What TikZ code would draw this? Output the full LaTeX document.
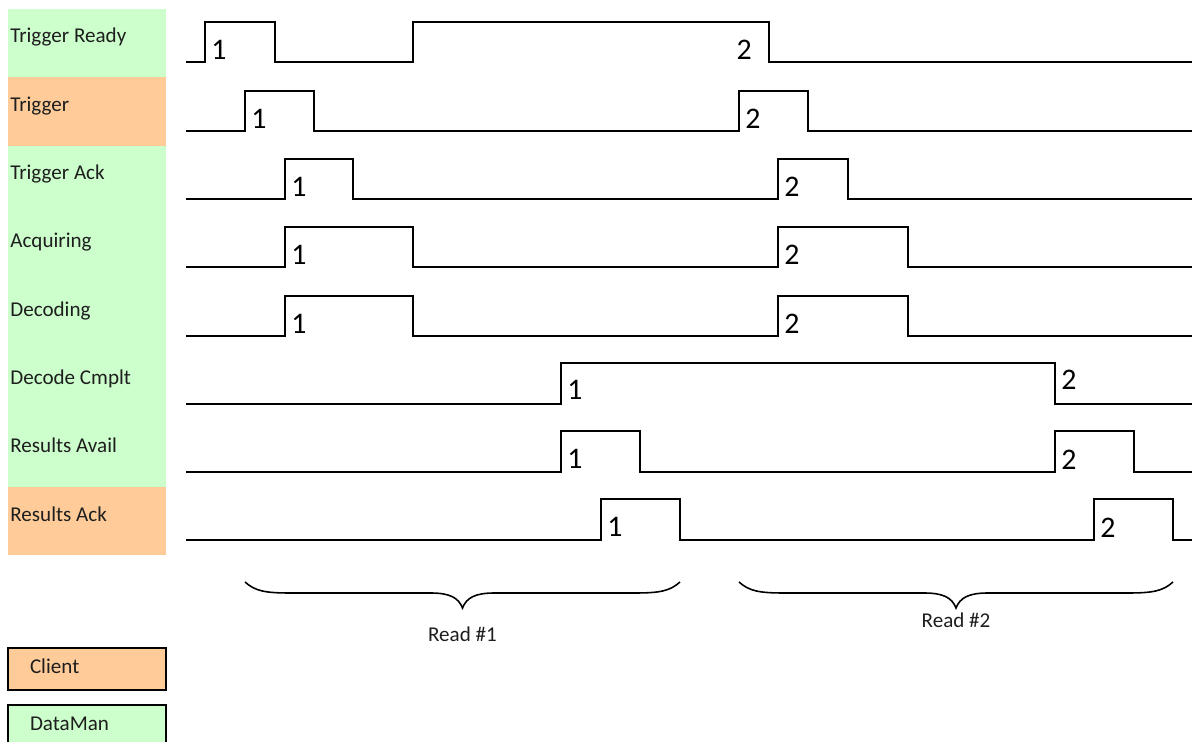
\documentclass[tikz,border=0pt]{standalone}
\usepackage{fontspec}
\setmainfont{Carlito}
\usetikzlibrary{calc}

\definecolor{dmgreen}{RGB}{204,255,204}
\definecolor{clorange}{RGB}{255,204,153}
\definecolor{txtc}{RGB}{30,30,30}

\tikzset{
  sig/.style={line width=1.2pt, line join=miter},
  lbl/.style={anchor=base west, inner sep=0pt, text=txtc, font=\fontsize{12}{14}\selectfont},
  num/.style={anchor=west, inner sep=0pt, font=\fontsize{17}{19}\selectfont},
  brc/.style={line width=0.9pt},
  legbox/.style={draw, line width=1.1pt, minimum width=3.16cm, minimum height=0.84cm,
    text width=2.28cm, align=left, text height=8pt, text depth=3pt, text=txtc,
    font=\fontsize{12}{14}\selectfont}
}

\begin{document}
\begin{tikzpicture}[x=0.02cm, y=-0.02cm]
    \useasboundingbox (0,0) rectangle (1194,742);

    % --- 1. rows: coloured band and signal name ---
    \foreach \i/\txt/\col in {0/Trigger Ready/dmgreen, 1/Trigger/clorange,
        2/Trigger Ack/dmgreen, 3/Acquiring/dmgreen, 4/Decoding/dmgreen,
        5/Decode Cmplt/dmgreen, 6/Results Avail/dmgreen, 7/Results Ack/clorange}{
        \pgfmathsetmacro\rtop{9+68.3*\i}
        \fill[\col] (8,\rtop) rectangle (166,\rtop+68.4);
        \node[lbl] (row\i) at (10,\rtop+34) {\txt};
    }

    % --- 2. waveforms (low / high levels per row) ---
    \draw[sig] (186,62) -| (205,22) -| (275,62) -| (413,22) -| (769,62) -- (1192,62);
    \draw[sig] (186,131) -| (245,91) -| (314,131) -| (739,91) -| (808,131) -- (1192,131);
    \draw[sig] (186,199) -| (285,159) -| (353,199) -| (778,159) -| (848,199) -- (1192,199);
    \draw[sig] (186,267) -| (285,227) -| (413,267) -| (778,227) -| (908,267) -- (1192,267);
    \draw[sig] (186,336) -| (285,296) -| (413,336) -| (778,296) -| (908,336) -- (1192,336);
    \draw[sig] (186,404) -| (561,363) -| (1055,404) -- (1192,404);
    \draw[sig] (186,472) -| (561,431) -| (640,472) -| (1055,431) -| (1134,472) -- (1192,472);
    \draw[sig] (186,540) -| (601,499) -| (680,540) -| (1094,499) -| (1173,540) -- (1192,540);

    % --- 3. read numbers at the edges ---
    \node[num, anchor=east] (tr2) at (752,50) {2};
    \foreach \nm/\x/\y/\t in {tr1/211/50/1, tg1/251/119/1, tg2/745/119/2,
        ta1/291/187/1, ta2/784/187/2, aq1/291/255/1, aq2/784/255/2,
        dc1/291/324/1, dc2/784/324/2, cp1/567/390/1, cp2/1061/380/2,
        ra1/567/459/1, ra2/1061/460/2, rk1/607/527/1, rk2/1100/528/2}
        \node[num] (\nm) at (\x,\y) {\t};

    % --- 4. braces under each read ---
    \foreach \a/\b/\k/\ly in {245/680/1/642, 739/1173/2/628}{
        \pgfmathsetmacro\m{(\a+\b)/2}
        \draw[brc] (\a,582) .. controls (\a+10,591) and (\a+20,593) .. (\a+45,593)
            -- (\m-32,593) .. controls (\m-12,593) and (\m-4,598) .. (\m,608)
            .. controls (\m+4,598) and (\m+12,593) .. (\m+32,593)
            -- (\b-45,593) .. controls (\b-20,593) and (\b-10,591) .. (\b,582);
        \node[lbl, anchor=base] (read\k) at (\m,\ly) {Read \#\k};
    }

    % --- 5. legend ---
    \node[legbox, fill=clorange] (client) at (87,669) {Client};
    \node[legbox, fill=dmgreen] (dataman) at (87,726) {DataMan};

\end{tikzpicture}
\end{document}
